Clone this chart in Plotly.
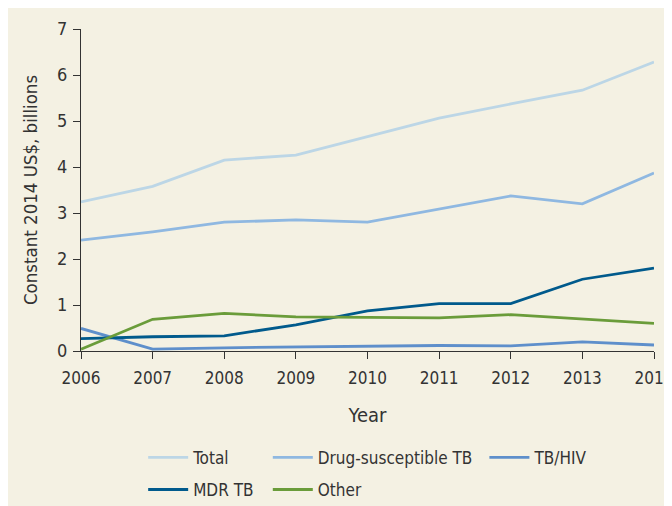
import plotly.graph_objects as go

years = [2006, 2007, 2008, 2009, 2010, 2011, 2012, 2013, 2014]
total = [3.24, 3.58, 4.15, 4.26, 4.66, 5.06, 5.37, 5.67, 6.28]
drug_susceptible = [2.41, 2.59, 2.80, 2.85, 2.80, 3.08, 3.37, 3.20, 3.87]
tb_hiv = [0.49, 0.04, 0.07, 0.09, 0.11, 0.12, 0.11, 0.20, 0.13]
mdr_tb = [0.27, 0.31, 0.33, 0.57, 0.87, 1.03, 1.03, 1.56, 1.80]
other = [0.04, 0.69, 0.82, 0.74, 0.73, 0.72, 0.79, 0.70, 0.60]
y_ticks = [0, 1, 2, 3, 4, 5, 6, 7]

FONT = "DejaVu Sans Condensed, Liberation Sans Narrow, sans-serif"
TXT = "#333333"
BG = "#F4F1E3"

series = [
    ("Total", total, "#BCD6E6", "legend", "g1"),
    ("Drug-susceptible TB", drug_susceptible, "#8FB8E1", "legend2", "g3"),
    ("TB/HIV", tb_hiv, "#5E8FCB", "legend3", "g5"),
    ("MDR TB", mdr_tb, "#005A8C", "legend", "g2"),
    ("Other", other, "#6A9C3A", "legend2", "g4"),
]

fig = go.Figure()
for name, vals, color, leg, grp in series:
    fig.add_trace(go.Scatter(
        x=years, y=vals, mode="lines", name=name,
        line=dict(color=color, width=2.8),
        legend=leg, legendgroup=grp,
    ))

legend_common = dict(
    orientation="v", yanchor="top", xanchor="left",
    bgcolor="rgba(0,0,0,0)", font=dict(family=FONT, size=17, color=TXT),
    tracegroupgap=7, itemwidth=40,
)

fig.update_layout(
    width=672, height=506,
    margin=dict(l=73, r=26, t=21, b=163, autoexpand=False),
    paper_bgcolor=BG, plot_bgcolor=BG,
    font=dict(family=FONT, color=TXT),
    legend=dict(x=0.1085, y=-0.276, **legend_common),
    legend2=dict(x=0.326, y=-0.276, **legend_common),
    legend3=dict(x=0.704, y=-0.276, **legend_common),
    xaxis=dict(
        range=[2006, 2014], tickvals=years, ticktext=[str(y) for y in years],
        showgrid=False, zeroline=False, showline=True, linecolor="#333333", linewidth=1.2,
        ticks="outside", ticklen=7, tickcolor="#333333", tickwidth=1.2,
        tickfont=dict(family=FONT, size=17, color=TXT),
        ticklabeloverflow="allow", ticklabelstandoff=4, automargin=False,
        title=dict(text="Year", font=dict(family=FONT, size=20, color=TXT), standoff=21),
    ),
    yaxis=dict(
        range=[0, 7], tickvals=y_ticks,
        showgrid=False, zeroline=False, showline=True, linecolor="#333333", linewidth=1.2,
        ticks="outside", ticklen=7, tickcolor="#333333", tickwidth=1.2,
        tickfont=dict(family=FONT, size=18, color=TXT),
        automargin=False, ticklabelstandoff=2,
        title=dict(text="Constant 2014 US$, billions", font=dict(family=FONT, size=18.5, color=TXT), standoff=14),
    ),
)

fig.write_html("out.html")
